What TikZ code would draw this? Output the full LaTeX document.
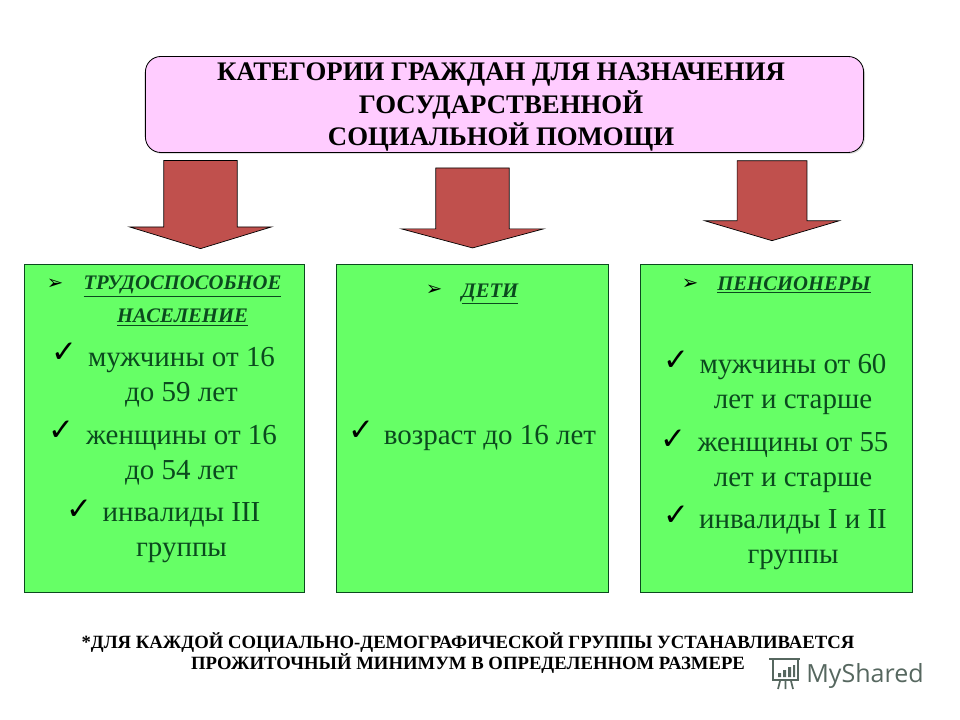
\documentclass[tikz,border=0pt]{standalone}
\usepackage{fontspec}
\setmainfont{Liberation Serif}
\newfontfamily\symfont{DejaVu Sans}
\newfontfamily\logofont{Open Sans}
\definecolor{TitlePink}{HTML}{FFCCFF}
\definecolor{BoxGreen}{HTML}{66FF66}
\definecolor{BoxEdge}{HTML}{0B4A1E}
\definecolor{ArrowRed}{HTML}{C0504D}
\definecolor{LogoGrey}{HTML}{56675F}
\usetikzlibrary{positioning,shapes.arrows,shadows}

\begin{document}
\begin{tikzpicture}[x=0.025cm, y=-0.025cm,
    titlebox/.style={rectangle, rounded corners=11pt, draw=black, fill=TitlePink, line width=0.6pt,
      minimum width=17.95cm, minimum height=2.4cm, drop shadow={shadow xshift=1pt, shadow yshift=-1pt, opacity=0.25}},
    groupbox/.style={rectangle, draw=BoxEdge, fill=BoxGreen, line width=0.7pt, minimum height=8.2cm},
    bigarrow/.style={single arrow, draw=black, fill=ArrowRed, line width=0.5pt, rotate=-90, inner xsep=0pt,
      inner ysep=0.9cm, single arrow head indent=0pt},
    titletext/.style={align=center, text=black, font=\fontsize{19.05}{22.8}\selectfont\bfseries},
    head/.style={align=center, text=BoxEdge, font=\fontsize{14.7}{23.5}\selectfont\bfseries\itshape},
    item/.style={align=center, text=BoxEdge, font=\fontsize{20.6}{24.9}\selectfont},
    tick/.style={text=black, font=\symfont\fontsize{22}{22}\selectfont},
    bullet/.style={text=black, font=\symfont\fontsize{14}{14}\selectfont},
    note/.style={align=center, text=black, font=\fontsize{13.3}{15.6}\selectfont\bfseries}]
    \useasboundingbox (0,0) rectangle (960,720);

    \node[titlebox] (top) at (504.5,104.5) {};
    \node[titletext] (title) at (501,107) {КАТЕГОРИИ ГРАЖДАН ДЛЯ НАЗНАЧЕНИЯ\\ГОСУДАРСТВЕННОЙ\\СОЦИАЛЬНОЙ ПОМОЩИ};

    \node[bigarrow, minimum height=2.2cm, minimum width=3.55cm, single arrow head extend=0.85cm,
      single arrow tip angle=146] (arrowa) at (200.5,199) {};
    \node[bigarrow, minimum height=2cm, minimum width=3.55cm, single arrow head extend=0.85cm,
      single arrow tip angle=150] (arrowb) at (472.5,203) {};
    \node[bigarrow, minimum height=2cm, minimum width=3.35cm, single arrow head extend=0.8cm,
      single arrow tip angle=147, inner ysep=0.86cm] (arrowc) at (772,195.5) {};

    \node[groupbox, minimum width=7cm] (boxa) at (164.5,428.5) {};
    \node[groupbox, minimum width=6.8cm] (boxb) at (472.5,428.5) {};
    \node[groupbox, minimum width=6.8cm] (boxc) at (776.5,428.5) {};

    \node[bullet] (ba) at (55,284) {➢};
    \node[head] (ha) at (182.5,301) {\underline{ТРУДОСПОСОБНОЕ}\\\underline{НАСЕЛЕНИЕ}};
    \node[tick] (ta1) at (64,353) {✓};
    \node[item] (ia1) at (181.5,377.5) {мужчины от 16\\до 59 лет};
    \node[tick] (ta2) at (61,431) {✓};
    \node[item] (ia2) at (181.5,455) {женщины от 16\\до 54 лет};
    \node[tick] (ta3) at (79,510) {✓};
    \node[item] (ia3) at (181.5,533) {инвалиды III\\группы};

    \node[bullet] (bb) at (434,290) {➢};
    \node[head] (hb) at (490,294) {\underline{ДЕТИ}};
    \node[tick] (tb1) at (361,431) {✓};
    \node[item] (ib1) at (490,437.5) {возраст до 16 лет};

    \node[bullet] (bc) at (690,284) {➢};
    \node[head] (hc) at (794,285) {\underline{ПЕНСИОНЕРЫ}};
    \node[tick] (tc1) at (676,361) {✓};
    \node[item] (ic1) at (793,384.5) {мужчины от 60\\лет и старше};
    \node[tick] (tc2) at (673,440) {✓};
    \node[item] (ic2) at (793,462.5) {женщины от 55\\лет и старше};
    \node[tick] (tc3) at (676,516) {✓};
    \node[item] (ic3) at (793,539.5) {инвалиды I и II\\группы};

    \node[note] (foot) at (468,653) {*ДЛЯ КАЖДОЙ СОЦИАЛЬНО-ДЕМОГРАФИЧЕСКОЙ ГРУППЫ УСТАНАВЛИВАЕТСЯ\\ПРОЖИТОЧНЫЙ МИНИМУМ В ОПРЕДЕЛЕННОМ РАЗМЕРЕ};

    % logo
    \draw[LogoGrey, line width=1.2pt] (773,659) rectangle (798,680);
    \draw[LogoGrey, line width=1.4pt] (769,659) -- (800,659);
    \fill[LogoGrey] (778,673) rectangle (781,677) (783,670) rectangle (786,677) (788,667) rectangle (791,677) (793,665) rectangle (795,677);
    \draw[LogoGrey, line width=1.2pt] (780,681) -- (778,689) (785.5,681) -- (785.5,689) (791,681) -- (793,689);
    \node[text=LogoGrey, font=\logofont\fontsize{17.8}{18}\selectfont, inner sep=0pt] (logo) at (865,676) {MyShared};
\end{tikzpicture}
\end{document}
